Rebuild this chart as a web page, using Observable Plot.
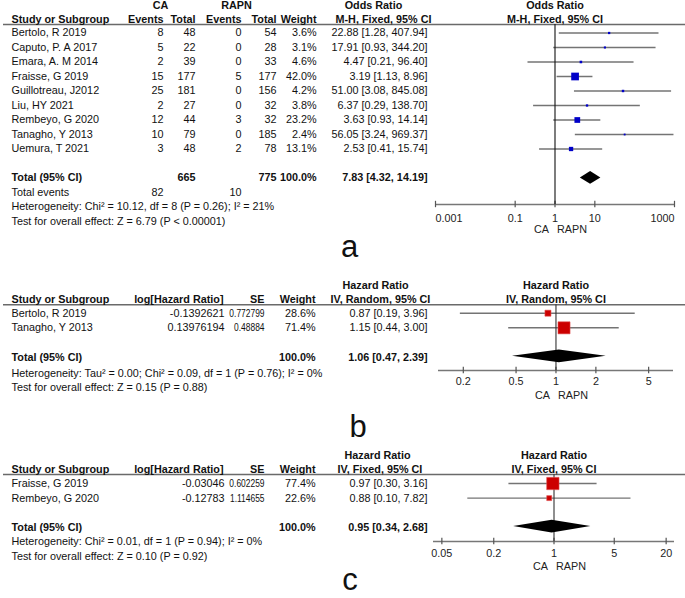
<!DOCTYPE html>
<html>
<head>
<meta charset="utf-8">
<script src="https://cdn.jsdelivr.net/npm/d3@7"></script>
<script src="https://cdn.jsdelivr.net/npm/@observablehq/plot@0.6"></script>
<style>
  body { margin: 0; background: #fff; }
  #wrap { position: relative; width: 685px; height: 598px; overflow: hidden; background: #fff;
          font-family: "Liberation Sans", Arial, Helvetica, sans-serif; }
  .panel { position: absolute; left: 0; }
  .lbl { position: absolute; font-size: 31px; line-height: 1; transform: translateX(-50%); color: #111; }
</style>
</head>
<body>
<div id="wrap"></div>
<script>
// ================= DATA =================
// Panel a: Odds ratio, CA vs RAPN
const studiesA = ["Bertolo, R 2019", "Caputo, P. A 2017", "Emara, A. M 2014", "Fraisse, G 2019",
  "Guillotreau, J2012", "Liu, HY 2021", "Rembeyo, G 2020", "Tanagho, Y 2013", "Uemura, T 2021"];
const caEventsA = [8, 5, 2, 15, 25, 2, 12, 10, 3];
const caTotalA = [48, 22, 39, 177, 181, 27, 44, 79, 48];
const rapnEventsA = [0, 0, 0, 5, 0, 0, 3, 0, 2];
const rapnTotalA = [54, 28, 33, 177, 156, 32, 32, 185, 78];
const weightA = [3.6, 3.1, 4.6, 42.0, 4.2, 3.8, 23.2, 2.4, 13.1];
const orA = [22.88, 17.91, 4.47, 3.19, 51.00, 6.37, 3.63, 56.05, 2.53];
const loA = [1.28, 0.93, 0.21, 1.13, 3.08, 0.29, 0.93, 3.24, 0.41];
const hiA = [407.94, 344.20, 96.40, 8.96, 845.08, 138.70, 14.14, 969.37, 15.74];
const totalCountsA = [665, 775];       // CA total, RAPN total
const totalEventsA = [82, 10];         // CA events, RAPN events
const pooledA = [7.83, 4.32, 14.19];   // OR, lower, upper
const hetA = "Heterogeneity: Chi² = 10.12, df = 8 (P = 0.26); I² = 21%";
const testA = "Test for overall effect: Z = 6.79 (P < 0.00001)";
const ticksA = [0.001, 0.1, 1, 10, 1000];

// Panel b: Hazard ratio, IV random
const studiesB = ["Bertolo, R 2019", "Tanagho, Y 2013"];
const logHRB = [-0.1392621, 0.13976194];
const seB = [0.772799, 0.48884];
const weightB = [28.6, 71.4];
const hrB = [0.87, 1.15];
const loB = [0.19, 0.44];
const hiB = [3.96, 3.00];
const pooledB = [1.06, 0.47, 2.39];
const hetB = "Heterogeneity: Tau² = 0.00; Chi² = 0.09, df = 1 (P = 0.76); I² = 0%";
const testB = "Test for overall effect: Z = 0.15 (P = 0.88)";
const ticksB = [0.2, 0.5, 1, 2, 5];

// Panel c: Hazard ratio, IV fixed
const studiesC = ["Fraisse, G 2019", "Rembeyo, G 2020"];
const logHRC = [-0.03046, -0.12783];
const seC = [0.602259, 1.114655];
const weightC = [77.4, 22.6];
const hrC = [0.97, 0.88];
const loC = [0.30, 0.10];
const hiC = [3.16, 7.82];
const pooledC = [0.95, 0.34, 2.68];
const hetC = "Heterogeneity: Chi² = 0.01, df = 1 (P = 0.94); I² = 0%";
const testC = "Test for overall effect: Z = 0.10 (P = 0.92)";
const ticksC = [0.05, 0.2, 1, 5, 20];

const favourLabels = ["CA", "RAPN"];
const panelLabels = ["a", "b", "c"];

// ================= HELPERS =================
const FONT = '"Liberation Sans", Arial, Helvetica, sans-serif';
const TXT = "#111";
const FS = 10.8;
const SQUEEZE = 0.78;   // narrow SE column text is horizontally condensed, as in the source
const fmt2 = v => v.toFixed(2);
const ciText = (e, l, h) => `${fmt2(e)} [${fmt2(l)}, ${fmt2(h)}]`;
const pct = w => w.toFixed(1) + "%";

// cells: {text,row,x,anchor,bold,squeeze}; grouped into text marks by column
function tableMarks(cells, mL) {
  return d3.groups(cells, c => `${c.x}|${c.anchor}|${c.bold}|${!!c.squeeze}`).map(([, g]) =>
    Plot.text(g, {
      y: "row", text: "text", frameAnchor: "left", dx: g[0].x - mL,
      textAnchor: g[0].anchor, fontWeight: g[0].bold ? "bold" : "normal",
      fontSize: FS, fill: TXT, ariaDescription: g[0].squeeze ? "squeeze" : "table"
    }));
}
function colCells(values, x, anchor, bold, squeeze = false) {
  return values.map((v, i) => ({text: String(v), row: i, x, anchor, bold, squeeze}));
}
const one = (text, row, x, anchor = "start", bold = false) => ({text, row, x, anchor, bold, squeeze: false});

function forestPanel(cfg) {
  const rows = cfg.est.map((e, i) => ({row: i, est: e, lo: cfg.lo[i], hi: cfg.hi[i], w: cfg.w[i]}));
  const [pe, pl, ph] = cfg.pooled;
  const dia = [
    {x: pl, y1: cfg.totalRow, y2: cfg.totalRow},
    {x: pe, y1: cfg.totalRow - cfg.half, y2: cfg.totalRow + cfg.half},
    {x: ph, y1: cfg.totalRow, y2: cfg.totalRow}
  ];
  const [yTop, yBot] = cfg.yDomain;
  const n = cfg.ticks.length;
  const anchorOf = (i) => cfg.endsInward ? (i === 0 ? "start" : i === n - 1 ? "end" : "middle") : "middle";
  const tickLabelMarks = d3.groups(cfg.ticks.map((t, i) => ({t, a: anchorOf(i)})), d => d.a).map(([a, g]) =>
    Plot.text(g, {x: "t", y: () => yBot, text: d => String(d.t), textAnchor: a, dy: cfg.labelDy, fontSize: FS, fill: "#222"}));
  return Plot.plot({
    width: 685, height: cfg.height,
    marginLeft: cfg.mL, marginRight: cfg.mR, marginTop: cfg.mT, marginBottom: cfg.mB,
    x: {type: "log", domain: cfg.xDomain, axis: null},
    y: {type: "linear", domain: cfg.yDomain, reverse: true, axis: null},
    r: cfg.r,
    style: {fontFamily: FONT, background: "white", color: TXT, overflow: "visible"},
    marks: [
      // header underline across the full width
      Plot.ruleY([yTop], {stroke: "#6a6a6a", strokeWidth: 1.5, insetLeft: -(cfg.mL - 3), insetRight: -cfg.mR}),
      // axis line, ticks and tick labels
      Plot.ruleY([yBot], {stroke: "#777", strokeWidth: 1.6}),
      Plot.ruleX(cfg.ticks, {x: d => d, y1: yBot - cfg.tickHalf, y2: yBot + cfg.tickHalf, stroke: "#555", strokeWidth: 1.2}),
      ...tickLabelMarks,
      // confidence intervals
      Plot.ruleY(rows, {y: "row", x1: "lo", x2: "hi", stroke: "#747474", strokeWidth: 1.4}),
      // line of no effect
      Plot.ruleX([1], {stroke: cfg.vColor, strokeWidth: 1.1}),
      // study estimates
      Plot.dot(rows, {x: "est", y: "row", r: "w", symbol: "square", fill: cfg.color, stroke: cfg.stroke || "none", strokeWidth: 0.6}),
      // pooled diamond
      Plot.areaY(dia, {x: "x", y1: "y1", y2: "y2", fill: "black", curve: "linear"}),
      // favours labels
      Plot.text([favourLabels[0]], {x: () => 1, y: () => yBot, text: d => d, textAnchor: "end", dx: -6, dy: 25, fontSize: FS, fill: "#222"}),
      Plot.text([favourLabels[1]], {x: () => 1, y: () => yBot, text: d => d, textAnchor: "start", dx: 2, dy: 25, fontSize: FS, fill: "#222"}),
      // right-hand headers (centred on the plot frame)
      Plot.text(cfg.rightHeaders, {y: "row", text: "text", fontWeight: "bold", fontSize: FS, fill: TXT}),
      ...tableMarks(cfg.cells, cfg.mL)
    ]
  });
}

// ================= PANEL A =================
const H1 = -1.9, H2 = -0.95;
const cellsA = [
  one("CA", H1, 160, "middle", true), one("RAPN", H1, 236, "middle", true), one("Odds Ratio", H1, 373, "middle", true),
  one("Study or Subgroup", H2, 11, "start", true), one("Events", H2, 163, "end", true), one("Total", H2, 195, "end", true),
  one("Events", H2, 241, "end", true), one("Total", H2, 276, "end", true), one("Weight", H2, 316, "end", true),
  one("M-H, Fixed, 95% CI", H2, 335, "start", true),
  ...colCells(studiesA, 11, "start", false),
  ...colCells(caEventsA, 163, "end", false),
  ...colCells(caTotalA, 195, "end", false),
  ...colCells(rapnEventsA, 241, "end", false),
  ...colCells(rapnTotalA, 276, "end", false),
  ...colCells(weightA.map(pct), 316, "end", false),
  ...colCells(orA.map((e, i) => ciText(e, loA[i], hiA[i])), 427, "end", false),
  one("Total (95% CI)", 10, 11, "start", true),
  one(String(totalCountsA[0]), 10, 195, "end", true),
  one(String(totalCountsA[1]), 10, 276, "end", true),
  one(pct(100), 10, 316, "end", true),
  one(ciText(...pooledA), 10, 427, "end", true),
  one("Total events", 11, 11, "start", false),
  one(String(totalEventsA[0]), 11, 163, "end", false),
  one(String(totalEventsA[1]), 11, 241, "end", false),
  one(hetA, 12, 11, "start", false),
  one(testA, 13, 11, "start", false)
];
const plotA = forestPanel({
  height: 238, mL: 435, mR: 11, mT: 24, mB: 34,
  yDomain: [-0.586, 11.828], xDomain: [0.001, 1000], ticks: ticksA, endsInward: true, labelDy: 14, tickHalf: 0.22,
  r: {type: "sqrt", domain: [0, 42], range: [0, 4.35]},
  color: "#0000c8", vColor: "#111",
  est: orA, lo: loA, hi: hiA, w: weightA, pooled: pooledA, totalRow: 10, half: 0.44,
  rightHeaders: [{text: "Odds Ratio", row: H1}, {text: "M-H, Fixed, 95% CI", row: H2}],
  cells: cellsA
});

// ================= PANEL B =================
const cellsB = [
  one("Hazard Ratio", H1, 375, "middle", true),
  one("Study or Subgroup", H2, 11, "start", true), one("log[Hazard Ratio]", H2, 223, "end", true),
  one("SE", H2, 264, "end", true), one("Weight", H2, 315, "end", true), one("IV, Random, 95% CI", H2, 330, "start", true),
  ...colCells(studiesB, 11, "start", false),
  ...colCells(logHRB, 224, "end", false),
  ...colCells(seB, 264, "end", false, true),
  ...colCells(weightB.map(pct), 315, "end", false),
  ...colCells(hrB.map((e, i) => ciText(e, loB[i], hiB[i])), 427, "end", false),
  one("Total (95% CI)", 3, 11, "start", true),
  one(pct(100), 3, 315, "end", true),
  one(ciText(...pooledB), 3, 427, "end", true),
  one(hetB, 4.1, 11, "start", false),
  one(testB, 5.1, 11, "start", false)
];
const plotB = forestPanel({
  height: 140, mL: 438, mR: 12, mT: 42.3, mB: 32,
  yDomain: [-0.575, 3.92], xDomain: [0.13, 7.7], ticks: ticksB, endsInward: false, labelDy: 11.5, tickHalf: 0.22,
  r: {type: "linear", domain: [28.6, 71.4], range: [3.4, 6.8]},
  color: "#cc0000", stroke: "#e05050", vColor: "#333",
  est: hrB, lo: loB, hi: hiB, w: weightB, pooled: pooledB, totalRow: 2.95, half: 0.44,
  rightHeaders: [{text: "Hazard Ratio", row: H1}, {text: "IV, Random, 95% CI", row: H2}],
  cells: cellsB
});

// ================= PANEL C =================
const cellsC = [
  one("Hazard Ratio", H1, 377, "middle", true),
  one("Study or Subgroup", H2, 11, "start", true), one("log[Hazard Ratio]", H2, 223, "end", true),
  one("SE", H2, 264, "end", true), one("Weight", H2, 315, "end", true), one("IV, Fixed, 95% CI", H2, 337, "start", true),
  ...colCells(studiesC, 11, "start", false),
  ...colCells(logHRC, 224, "end", false),
  ...colCells(seC, 264, "end", false, true),
  ...colCells(weightC.map(pct), 315, "end", false),
  ...colCells(hrC.map((e, i) => ciText(e, loC[i], hiC[i])), 427, "end", false),
  one("Total (95% CI)", 3, 11, "start", true),
  one(pct(100), 3, 315, "end", true),
  one(ciText(...pooledC), 3, 427, "end", true),
  one(hetC, 4, 11, "start", false),
  one(testC, 5, 11, "start", false)
];
const plotC = forestPanel({
  height: 132, mL: 433, mR: 11, mT: 32, mB: 33,
  yDomain: [-0.616, 3.97], xDomain: [0.04, 25], ticks: ticksC, endsInward: false, labelDy: 12, tickHalf: 0.22,
  r: {type: "linear", domain: [22.6, 77.4], range: [2.8, 6.95]},
  color: "#cc0000", stroke: "#e05050", vColor: "#333",
  est: hrC, lo: loC, hi: hiC, w: weightC, pooled: pooledC, totalRow: 2.95, half: 0.44,
  rightHeaders: [{text: "Hazard Ratio", row: H1}, {text: "IV, Fixed, 95% CI", row: H2}],
  cells: cellsC
});

// ================= LAYOUT =================
const wrap = document.getElementById("wrap");
[[plotA, 0], [plotB, 262], [plotC, 442]].forEach(([p, top]) => {
  p.classList.add("panel");
  p.style.top = top + "px";
  wrap.appendChild(p);
});
// condense the SE column text to its narrow column width
const squeezeTexts = [];
wrap.querySelectorAll('[aria-description="squeeze"]').forEach(el => {
  if (el.tagName.toLowerCase() === "text") squeezeTexts.push(el);
  else el.querySelectorAll("text").forEach(t => squeezeTexts.push(t));
});
squeezeTexts.forEach(t => {
  const w = t.getComputedTextLength();
  t.setAttribute("textLength", (w * SQUEEZE).toFixed(2));
  t.setAttribute("lengthAdjust", "spacingAndGlyphs");
});
[[panelLabels[0], 349.5, 231], [panelLabels[1], 358, 411], [panelLabels[2], 350, 564]].forEach(([t, x, y]) => {
  const d = document.createElement("div");
  d.className = "lbl";
  d.textContent = t;
  d.style.left = x + "px";
  d.style.top = y + "px";
  wrap.appendChild(d);
});
</script>
</body>
</html>
